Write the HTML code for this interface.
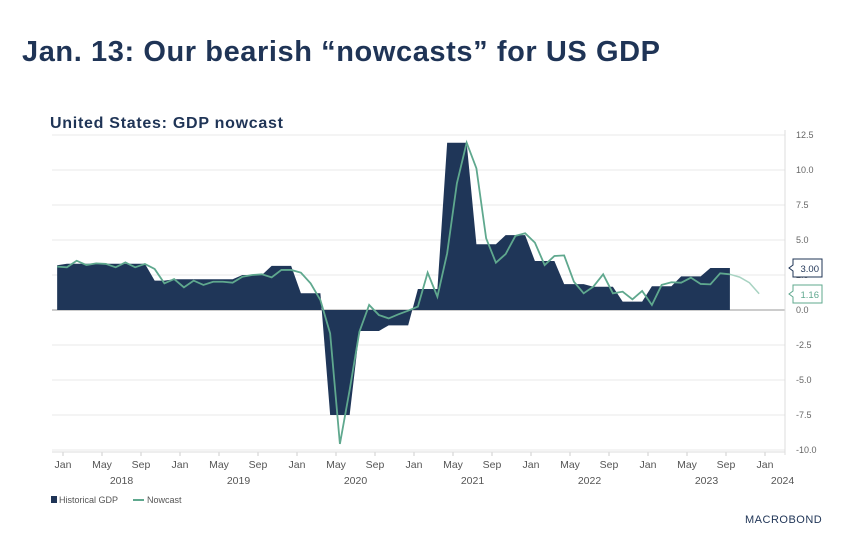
<!DOCTYPE html>
<html><head><meta charset="utf-8"><style>
body{margin:0;background:#fff;width:854px;height:549px;overflow:hidden;font-family:"Liberation Sans",sans-serif}
</style></head><body>
<svg width="854" height="549" xmlns="http://www.w3.org/2000/svg">
<text x="22" y="61" font-size="29" font-weight="bold" fill="#1f3456" textLength="638" lengthAdjust="spacing">Jan. 13: Our bearish “nowcasts” for US GDP</text>
<text x="50" y="128" font-size="16" font-weight="bold" fill="#1f3456" textLength="233" lengthAdjust="spacing">United States: GDP nowcast</text>
<g id="grid"></g><g id="plot"></g><g id="axes"></g>
<g>
<rect x="51" y="496" width="6" height="7" fill="#1f3456"/>
<text x="59" y="503" font-size="9" fill="#555">Historical GDP</text>
<line x1="133" y1="500" x2="144" y2="500" stroke="#5fa88e" stroke-width="2"/>
<text x="147" y="503" font-size="9" fill="#555">Nowcast</text>
</g>
<text x="745" y="523" font-size="11" fill="#1f3456" letter-spacing="0.5">MACROBOND</text>
</svg>
<script>
const gdp=[3.2,3.3,3.3,3.3,3.3,3.3,3.3,3.3,3.3,3.3,2.1,2.1,2.2,2.2,2.2,2.2,2.2,2.2,2.2,2.5,2.5,2.5,3.15,3.15,3.15,1.2,1.2,1.2,-7.5,-7.5,-7.5,-1.5,-1.5,-1.5,-1.1,-1.1,-1.1,1.5,1.5,1.5,11.95,11.95,11.95,4.7,4.7,4.7,5.35,5.35,5.35,3.5,3.5,3.5,1.85,1.85,1.85,1.66,1.66,1.66,0.6,0.6,0.6,1.7,1.7,1.7,2.4,2.4,2.4,3.0,3.0,3.0];
const nowcast=[3.10,3.05,3.52,3.21,3.33,3.29,3.05,3.40,3.05,3.29,2.93,1.90,2.21,1.62,2.10,1.79,2.02,2.02,1.95,2.38,2.50,2.55,2.33,2.86,2.86,2.67,1.90,0.71,-1.67,-9.57,-5.71,-1.55,0.36,-0.36,-0.60,-0.31,-0.05,0.24,2.67,0.95,4.05,9.05,11.95,10.12,5.12,3.38,4.0,5.29,5.48,4.81,3.21,3.86,3.90,2.02,1.19,1.67,2.55,1.19,1.31,0.76,1.36,0.36,1.79,1.98,1.95,2.31,1.86,1.83,2.62,2.55];
const forecast=[2.55,2.35,1.95,1.16];
const yTicks=[12.5,10,7.5,5,2.5,0,-2.5,-5,-7.5,-10];
const monthLabels=["Jan","May","Sep"];
const years=[2018,2019,2020,2021,2022,2023,2024];
const NS="http://www.w3.org/2000/svg";
const X=m=>63+(m+0.4)*9.75, XT=m=>63+m*9.75, Y=v=>310-v*14;
function mk(t,a,p){const e=document.createElementNS(NS,t);for(const k in a)e.setAttribute(k,a[k]);p.appendChild(e);return e;}
const grid=document.getElementById('grid'),plot=document.getElementById('plot'),axes=document.getElementById('axes');
yTicks.forEach(v=>{
 const l=mk('line',{x1:52,x2:785,y1:Y(v),y2:Y(v),stroke:v===0?'#999':'#e8e8e8','stroke-width':1},grid);
 
 
 const t=mk('text',{x:796,y:Y(v)+3,'font-size':9,fill:'#666'},axes);t.textContent=v.toFixed(1);
 
 
});
mk('line',{x1:785,x2:785,y1:130,y2:455,stroke:'#ddd'},axes);
let pts=gdp.map((v,i)=>X(i-1)+','+Y(v));
const area=mk('polygon',{points:X(-1)+','+Y(0)+' '+pts.join(' ')+' '+X(gdp.length-2)+','+Y(0),fill:'#1f3658'},plot);


const nl=mk('polyline',{points:nowcast.map((v,i)=>X(i-1)+','+Y(v)).join(' '),fill:'none',stroke:'#5fa88e','stroke-width':1.8},plot);


const off=nowcast.length-2;
const fl=mk('polyline',{points:forecast.map((v,i)=>X(off+i)+','+Y(v)).join(' '),fill:'none',stroke:'#a8d3c2','stroke-width':1.5},plot);


for(let m=0;m<=72;m+=4){
 mk('line',{x1:XT(m),x2:XT(m),y1:452,y2:456,stroke:'#ccc'},axes);
 const t=mk('text',{x:XT(m),y:468,'font-size':10.5,fill:'#555','text-anchor':'middle'},axes);
 t.textContent=monthLabels[(m/4)%3];
 
 
}
mk('line',{x1:52,x2:785,y1:452,y2:452,stroke:'#ddd'},axes);
years.forEach((yr,i)=>{
 const m=i*12+(yr===2024?1.8:6);
 const t=mk('text',{x:XT(m),y:484,'font-size':10.5,fill:'#555','text-anchor':'middle'},axes);
 t.textContent=yr;
 
 
});
function badge(v,color,ytop,txt,name){
 const g=mk('g',{},axes);
 
 
 mk('path',{d:`M793 ${ytop} H822 V${ytop+18} H793 V${ytop+12} L789 ${ytop+9} L793 ${ytop+6} Z`,fill:'#fff',stroke:color},g);
 const t=mk('text',{x:819,y:ytop+13,'font-size':9.5,fill:color,'text-anchor':'end'},g);t.textContent=txt;
}
badge(3,'#1f3456',259,gdp[gdp.length-1].toFixed(2),'gdp-last-value');
badge(1.16,'#5fa88e',285,forecast[forecast.length-1].toFixed(2),'nowcast-last-value');
</script>
</body></html>
